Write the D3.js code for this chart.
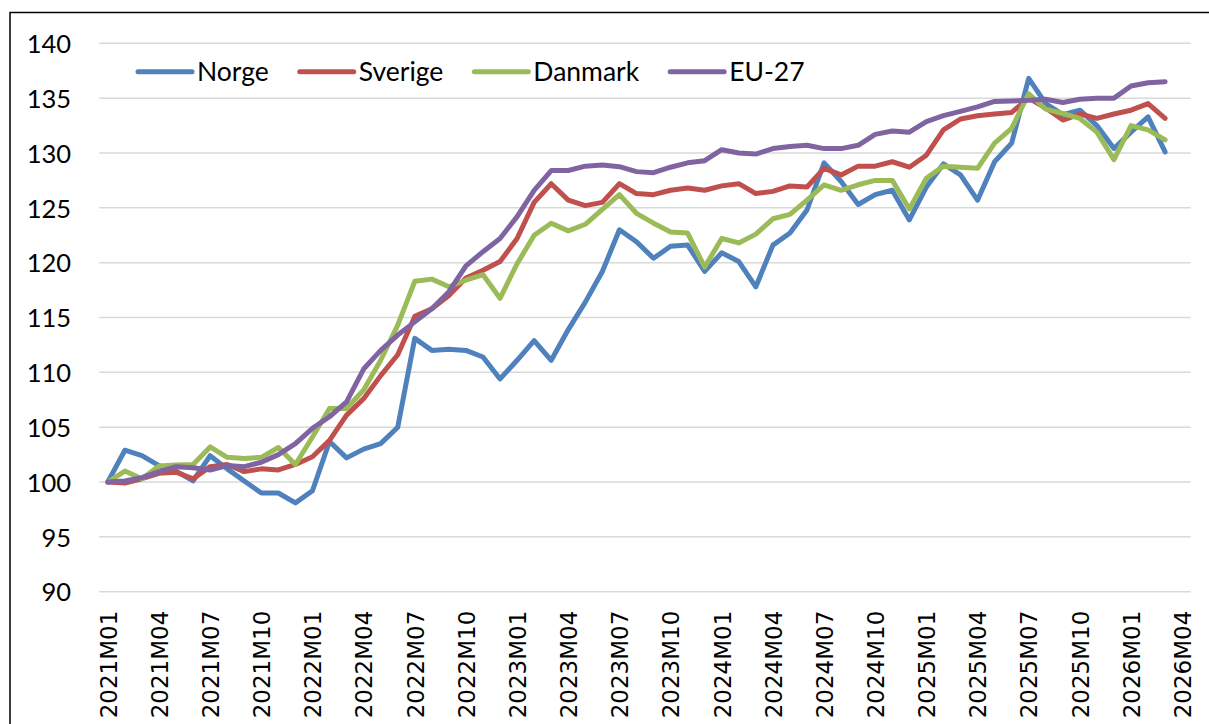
<!DOCTYPE html>
<html lang="no">
<head>
  <meta charset="UTF-8">
  <title>Norge, Sverige, Danmark, EU-27</title>
  <style>
    body {
      margin: 0;
      background: #fff;
      overflow: hidden;
    }
    .grid line {
      stroke: #d9d9d9;
      stroke-width: 1.5px;
    }
    .series {
      fill: none;
      stroke-width: 5px;
      stroke-linejoin: round;
      stroke-linecap: round;
    }
    .ylab {
      font-family: Lato, "Open Sans", sans-serif;
      font-size: 25.5px;
      fill: #000;
    }
    .xlab {
      font-family: "DejaVu Sans", Verdana, sans-serif;
      font-size: 23px;
      fill: #000;
    }
    .legend text {
      font-family: Lato, "Open Sans", sans-serif;
      font-size: 26.5px;
      fill: #000;
    }
  </style>
</head>
<body>
  <script src="https://d3js.org/d3.v7.min.js"></script>
  <script>
    // categories (monthly), 2021M01 - 2026M04
    const months = [
      '2021M01','2021M02','2021M03','2021M04','2021M05','2021M06','2021M07','2021M08','2021M09','2021M10','2021M11','2021M12',
      '2022M01','2022M02','2022M03','2022M04','2022M05','2022M06','2022M07','2022M08','2022M09','2022M10','2022M11','2022M12',
      '2023M01','2023M02','2023M03','2023M04','2023M05','2023M06','2023M07','2023M08','2023M09','2023M10','2023M11','2023M12',
      '2024M01','2024M02','2024M03','2024M04','2024M05','2024M06','2024M07','2024M08','2024M09','2024M10','2024M11','2024M12',
      '2025M01','2025M02','2025M03','2025M04','2025M05','2025M06','2025M07','2025M08','2025M09','2025M10','2025M11','2025M12',
      '2026M01','2026M02','2026M03','2026M04'
    ];

    const xTickLabels = [
      '2021M01','2021M04','2021M07','2021M10','2022M01','2022M04','2022M07','2022M10',
      '2023M01','2023M04','2023M07','2023M10','2024M01','2024M04','2024M07','2024M10',
      '2025M01','2025M04','2025M07','2025M10','2026M01','2026M04'
    ];

    const yTicks = [90, 95, 100, 105, 110, 115, 120, 125, 130, 135, 140];

    const norge = [
      100, 102.9, 102.4, 101.5, 101.0, 100.1, 102.4, 101.2, 100.1, 99.0, 99.0, 98.1,
      99.2, 103.7, 102.2, 103.0, 103.5, 105.0, 113.1, 112.0, 112.1, 112.0, 111.4, 109.4,
      111.1, 112.9, 111.1, 113.9, 116.4, 119.2, 123.0, 121.9, 120.4, 121.5, 121.6, 119.2,
      120.9, 120.1, 117.8, 121.6, 122.7, 124.8, 129.1, 127.4, 125.3, 126.2, 126.6, 123.9,
      126.9, 129.0, 128.0, 125.7, 129.2, 130.9, 136.8, 134.5, 133.5, 133.9, 132.5, 130.4,
      131.9, 133.3, 130.1
    ];

    const sverige = [
      100, 99.9, 100.3, 100.8, 100.9, 100.3, 101.4, 101.6, 100.95, 101.2, 101.1, 101.6,
      102.3, 103.8, 106.1, 107.6, 109.7, 111.6, 115.1, 115.8, 117.0, 118.6, 119.3, 120.1,
      122.2, 125.5, 127.2, 125.7, 125.2, 125.5, 127.2, 126.3, 126.2, 126.6, 126.8, 126.6,
      127.0, 127.2, 126.3, 126.5, 127.0, 126.9, 128.6, 128.0, 128.8, 128.8, 129.2, 128.7,
      129.8, 132.1, 133.1, 133.4, 133.55, 133.7, 135.0, 134.1, 133.0, 133.55, 133.15, 133.55,
      133.9, 134.5, 133.15
    ];

    const danmark = [
      100, 101.0, 100.3, 101.45, 101.55, 101.6, 103.2, 102.25, 102.15, 102.25, 103.15, 101.6,
      104.1, 106.7, 106.7, 108.4, 111.1, 114.3, 118.3, 118.5, 117.8, 118.4, 118.9, 116.75,
      119.9, 122.5, 123.6, 122.9, 123.5, 124.85, 126.2, 124.5, 123.6, 122.8, 122.7, 119.6,
      122.2, 121.8, 122.6, 124.0, 124.4, 125.7, 127.1, 126.6, 127.1, 127.5, 127.5, 124.9,
      127.7, 128.8, 128.7, 128.6, 130.9, 132.25, 135.4, 134.0, 133.6, 133.15, 131.9, 129.4,
      132.5, 132.1, 131.2
    ];

    const eu27 = [
      100, 100.1, 100.4, 100.95, 101.4, 101.3, 101.1, 101.5, 101.4, 101.8, 102.5, 103.5,
      104.9, 105.95, 107.3, 110.3, 112.0, 113.4, 114.6, 115.8, 117.35, 119.7, 121.0, 122.2,
      124.2, 126.6, 128.4, 128.4, 128.8, 128.9, 128.75, 128.3, 128.2, 128.7, 129.1, 129.3,
      130.3, 130.0, 129.9, 130.4, 130.6, 130.7, 130.4, 130.4, 130.7, 131.7, 132.0, 131.9,
      132.85, 133.4, 133.8, 134.2, 134.7, 134.75, 134.8, 134.9, 134.6, 134.9, 135.0, 135.0,
      136.1, 136.4, 136.5
    ];

    const seriesNames = ['Norge', 'Sverige', 'Danmark', 'EU-27'];
    const seriesColors = ['#4f81bd', '#c0504d', '#9bbb59', '#8064a2'];
    const seriesValues = [norge, sverige, danmark, eu27];

    const width = 1209;
    const height = 724;
    const plot = { left: 99.3, right: 1190.7, top: 43.3, bottom: 591.7 };

    const svg = d3.select('body').append('svg')
      .attr('width', width)
      .attr('height', height);

    // outer chart border (runs off the right and bottom edges)
    svg.append('rect')
      .attr('x', 10)
      .attr('y', 12.5)
      .attr('width', 1220)
      .attr('height', 730)
      .attr('fill', '#fff')
      .attr('stroke', '#000')
      .attr('stroke-width', 1.5);

    const x = d3.scalePoint()
      .domain(months)
      .range([plot.left, plot.right])
      .padding(0.5);

    const y = d3.scaleLinear()
      .domain([90, 140])
      .range([plot.bottom, plot.top]);

    // horizontal gridlines
    svg.append('g')
      .attr('class', 'grid')
      .selectAll('line')
      .data(yTicks)
      .enter().append('line')
      .attr('x1', plot.left)
      .attr('x2', plot.right)
      .attr('y1', d => y(d))
      .attr('y2', d => y(d));

    // y labels
    const yAxis = d3.axisLeft(y).tickValues(yTicks).tickSize(0).tickPadding(0);
    svg.append('g')
      .attr('transform', `translate(71,0)`)
      .call(yAxis)
      .call(g => g.select('.domain').remove())
      .selectAll('text')
      .attr('class', 'ylab')
      .attr('dy', '0.36em');

    // x labels, rotated
    const xAxis = d3.axisBottom(x).tickValues(xTickLabels).tickSize(0).tickPadding(0);
    svg.append('g')
      .attr('transform', `translate(0,${plot.bottom})`)
      .call(xAxis)
      .call(g => g.select('.domain').remove())
      .selectAll('text')
      .attr('class', 'xlab')
      .attr('transform', 'rotate(-90)')
      .attr('x', -19)
      .attr('y', 0)
      .attr('dy', '0.36em')
      .attr('text-anchor', 'end');

    const line = d3.line()
      .x((d, i) => x(months[i]))
      .y(d => y(d));

    svg.append('g')
      .selectAll('path')
      .data(seriesValues)
      .enter().append('path')
      .attr('class', 'series')
      .attr('stroke', (d, i) => seriesColors[i])
      .attr('d', line);

    // legend
    const legend = svg.append('g').attr('class', 'legend');
    let lx = 138;
    const ly = 71.7;
    seriesNames.forEach((name, i) => {
      legend.append('line')
        .attr('x1', lx).attr('x2', lx + 54)
        .attr('y1', ly).attr('y2', ly)
        .attr('stroke', seriesColors[i])
        .attr('stroke-width', 5)
        .attr('stroke-linecap', 'round');
      const t = legend.append('text')
        .attr('x', lx + 59)
        .attr('y', ly)
        .attr('dy', '0.36em')
        .text(name);
      lx += 59 + t.node().getComputedTextLength() + 31;
    });
  </script>
</body>
</html>
